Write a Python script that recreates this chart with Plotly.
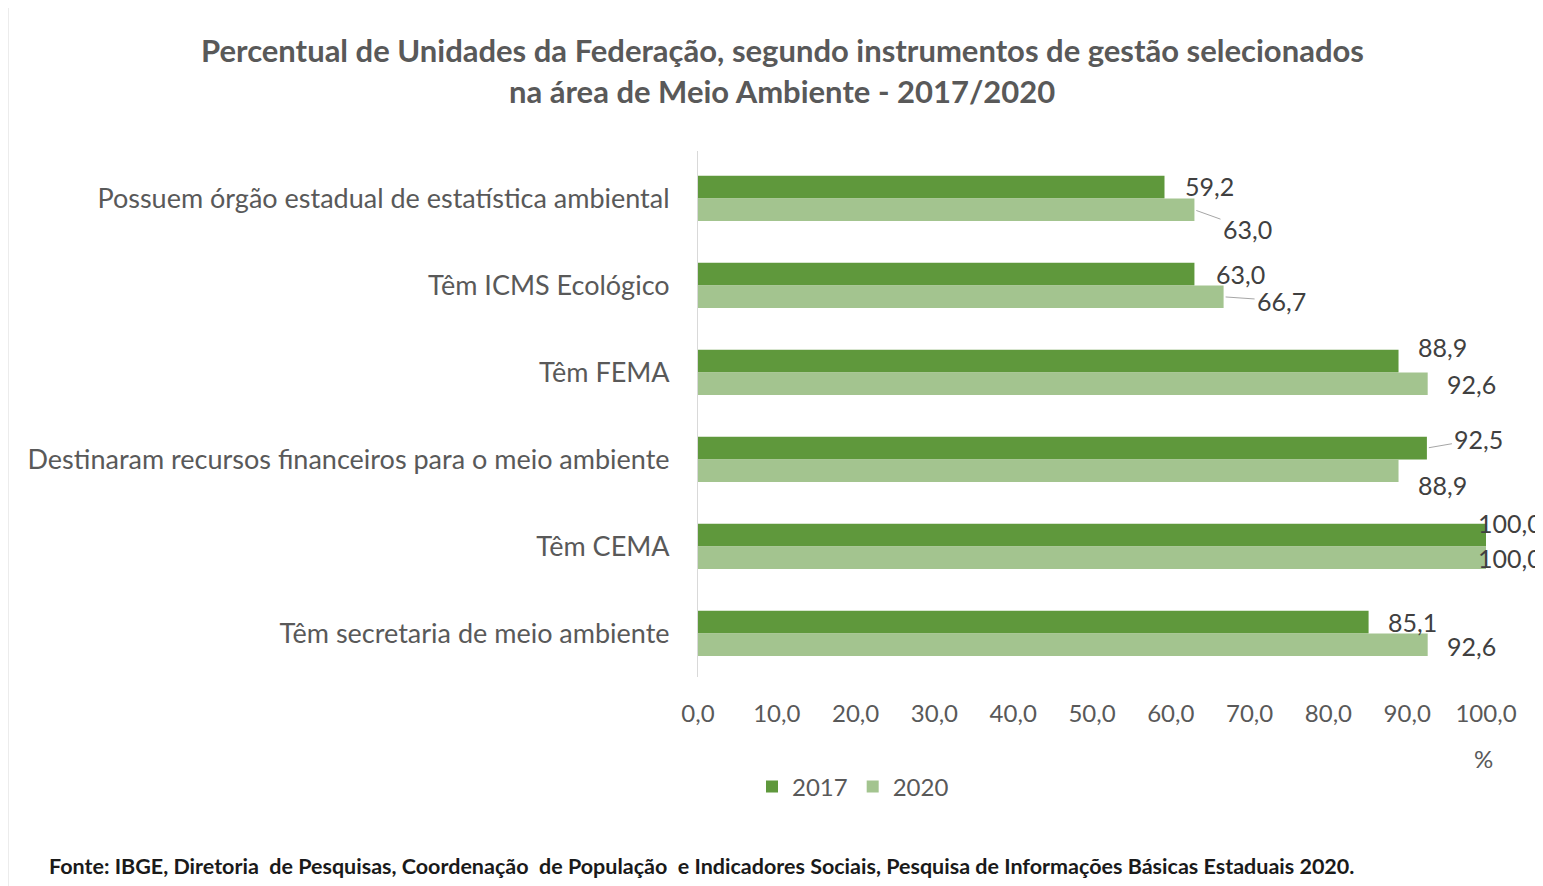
import plotly.graph_objects as go

# ---- data ----
categories = [
    "Possuem órgão estadual de estatística ambiental",
    "Têm ICMS Ecológico",
    "Têm FEMA",
    "Destinaram recursos financeiros para o meio ambiente",
    "Têm CEMA",
    "Têm secretaria de meio ambiente",
]
values_2017 = [59.2, 63.0, 88.9, 92.5, 100.0, 85.1]
values_2020 = [63.0, 66.7, 92.6, 88.9, 100.0, 92.6]
series_names = ["2017", "2020"]
x_ticks = [0, 10, 20, 30, 40, 50, 60, 70, 80, 90, 100]

title_lines = [
    "Percentual de Unidades da Federação, segundo instrumentos de gestão selecionados",
    "na área de Meio Ambiente - 2017/2020",
]
source_text = ("Fonte: IBGE, Diretoria  de Pesquisas, Coordenação  de População  e Indicadores Sociais, "
               "Pesquisa de Informações Básicas Estaduais 2020.")

# ---- styling ----
C2017 = "#5f983c"
C2020 = "#a3c48f"
FONT = "Lato"
TXT = "#404040"

# page offset of the figure (browser body margin)
OFF = 8
PL, PR, PT, PB = 698, 1486, 151, 677   # plot area in page pixels


def px(x):
    return (x - PL) / (PR - PL)


def py(y):
    return (PB - y) / (PB - PT)


# label offsets in pixels (dx, dy, leader line) — styling only
offs_2017 = [(45, -1, False), (46, 0, False), (44, -14, False), (52, -9, True), (24, -12, False), (44, 0, False)]
offs_2020 = [(53, 19, True), (58, 4, True), (44, 0, False), (44, 14, False), (24, 0, False), (44, 1, False)]

fig = go.Figure()
fig.add_trace(go.Bar(y=categories, x=values_2017, orientation="h", name=series_names[0],
                     marker=dict(color=C2017, line=dict(width=0))))
fig.add_trace(go.Bar(y=categories, x=values_2020, orientation="h", name=series_names[1],
                     marker=dict(color=C2020, line=dict(width=0))))


def fmt(v):
    return f"{v:.1f}".replace(".", ",")


annotations = []
for vals, offs, ysh in ((values_2017, offs_2017, 11.4), (values_2020, offs_2020, -11.4)):
    for cat, v, (dx, dy, lead) in zip(categories, vals, offs):
        annotations.append(dict(
            x=v, y=cat, xref="x", yref="y", yshift=ysh,
            text=fmt(v), showarrow=True, ax=dx, ay=dy,
            arrowhead=0, arrowwidth=1, standoff=2, startstandoff=1,
            arrowcolor="#a6a6a6" if lead else "rgba(0,0,0,0)",
            font=dict(family=FONT, size=25, color=TXT),
        ))

# title lines
for line, yy in zip(title_lines, (50, 91)):
    annotations.append(dict(text="<b>" + line + "</b>", xref="paper", yref="paper",
                            x=px(782), y=py(yy), xanchor="center", yanchor="middle",
                            showarrow=False, font=dict(family=FONT, size=31, color="#595959")))
# % unit
annotations.append(dict(text="%", xref="paper", yref="paper", x=px(1483), y=py(758),
                        xanchor="center", yanchor="middle", showarrow=False,
                        font=dict(family=FONT, size=24, color="#595959")))
# source
annotations.append(dict(text="<b>" + source_text + "</b>", xref="paper", yref="paper",
                        x=px(47), y=py(866), xanchor="left", yanchor="middle",
                        showarrow=False, font=dict(family=FONT, size=21.5, color="#1a1a1a")))

W, H = 1543 - OFF, 886 - OFF
fig.update_layout(
    width=W, height=H,
    margin=dict(l=PL - OFF, r=W - (PR - OFF), t=PT - OFF, b=H - (PB - OFF)),
    paper_bgcolor="#f2f2f2", plot_bgcolor="rgba(0,0,0,0)",
    separators=",.",
    barmode="group", bargap=0.48, bargroupgap=0,
    font=dict(family=FONT, color=TXT),
    showlegend=True,
    legend=dict(orientation="h", x=px(752), y=py(787), xanchor="left", yanchor="middle",
                font=dict(family=FONT, size=24, color="#595959"), bgcolor="rgba(0,0,0,0)",
                traceorder="normal", itemwidth=30),
    annotations=annotations,
    shapes=[dict(type="rect", xref="paper", yref="paper", layer="below",
                 x0=px(8), x1=px(1570), y0=py(900), y1=py(6),
                 fillcolor="white", line=dict(color="#d9d9d9", width=1))],
    xaxis=dict(range=[0, 100], tickvals=x_ticks, tickformat=".1f", showgrid=False, zeroline=False,
               showline=False, ticks="", ticklabelstandoff=20,
               tickfont=dict(family=FONT, size=24, color="#595959")),
    yaxis=dict(autorange="reversed", showgrid=False, showline=True, linecolor="#d9d9d9", linewidth=1,
               ticks="", ticklabelstandoff=22, tickfont=dict(family=FONT, size=27, color="#595959")),
)

fig.write_html("out.html")
